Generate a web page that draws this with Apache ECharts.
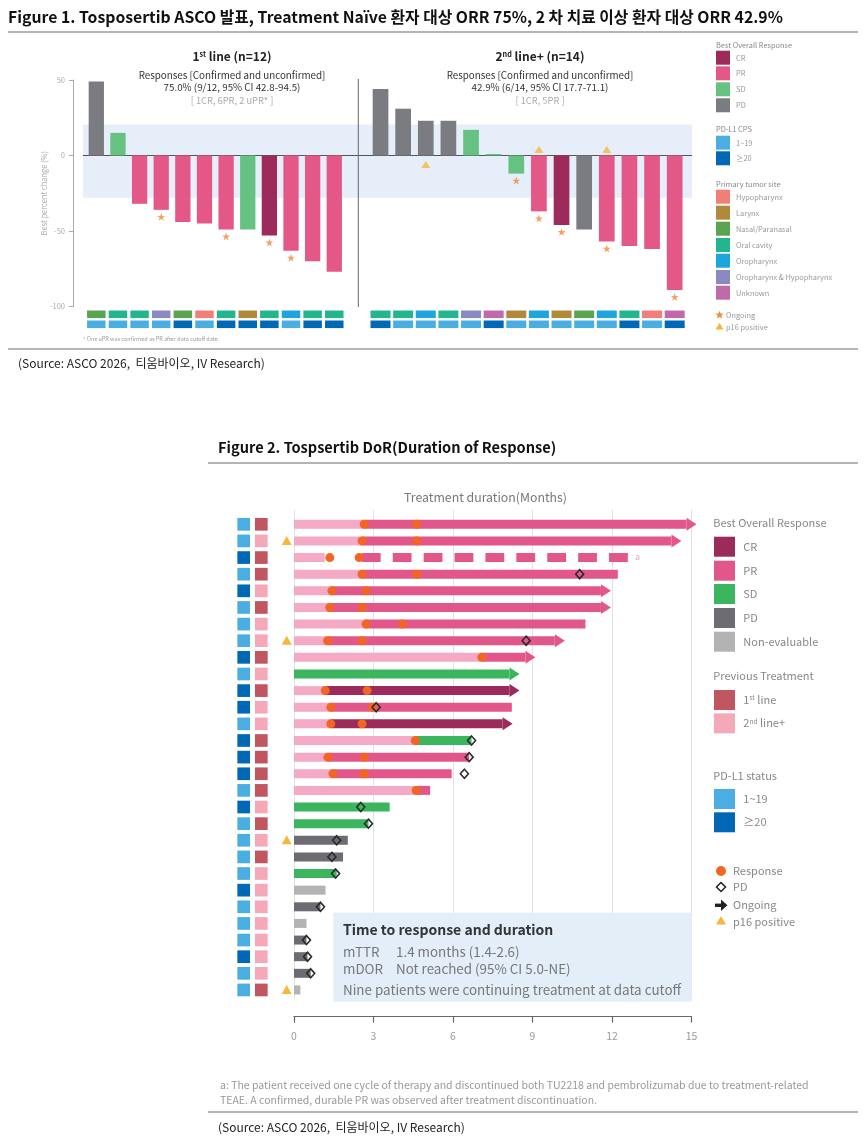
<!DOCTYPE html>
<html>
<head>
<meta charset="utf-8">
<script src="https://cdn.jsdelivr.net/npm/echarts@6.0.0/dist/echarts.min.js"></script>
<style>
html,body{margin:0;padding:0;background:#fff;}
#chart{width:864px;height:1142px;}
</style>
</head>
<body>
<div id="chart"></div>
<script>
// ---------------- Figure 1 data ----------------
const line1Ids = ['1','2','3','4','5','6','7','8','9','10','11','12'];
const line1Change = [49, 15, -32, -36, -44, -45, -49, -49, -53, -63, -70, -77];
const line1BOR = ['PD','SD','PR','PR','PR','PR','PR','SD','CR','PR','PR','PR'];
const line1Ongoing = [0,0,0,1,0,0,1,0,1,1,0,0];
const line1Site = ['Nasal/Paranasal','Oral cavity','Oral cavity','Oropharynx & Hypopharynx','Nasal/Paranasal','Hypopharynx','Oral cavity','Larynx','Oral cavity','Oropharynx','Oral cavity','Oral cavity'];
const line1CPS = ['1~19','1~19','1~19','1~19','≥20','1~19','≥20','≥20','≥20','1~19','≥20','≥20'];

const line2Ids = ['1','2','3','4','5','6','7','8','9','10','11','12','13','14'];
const line2Change = [44, 31, 23, 23, 17, 1, -12, -37, -46, -49, -57, -60, -62, -89];
const line2BOR = ['PD','PD','PD','PD','SD','SD','SD','PR','CR','PD','PR','PR','PR','PR'];
const line2Ongoing = [0,0,0,0,0,0,1,1,1,0,1,0,0,1];
const line2P16 = [0,0,1,0,0,0,0,1,0,0,1,0,0,0];
const line2Site = ['Oral cavity','Oral cavity','Oropharynx','Oral cavity','Oropharynx & Hypopharynx','Unknown','Larynx','Oropharynx','Larynx','Nasal/Paranasal','Oropharynx','Oral cavity','Hypopharynx','Unknown'];
const line2CPS = ['≥20','1~19','1~19','1~19','1~19','≥20','1~19','1~19','1~19','1~19','1~19','≥20','1~19','≥20'];

const changeMin = -100, changeMax = 50, changeStep = 50;
const responseBand = [20.5, -28];

// ---------------- Figure 2 data ----------------
const dorBOR = ['PR','PR','PR','PR','PR','PR','PR','PR','PR','SD','CR','PR','CR','SD','PR','PR','PR','SD','SD','PD','PD','SD','NE','PD','NE','PD','PD','PD','NE'];
const dorPreEnd = [2.65,2.57,1.16,2.57,1.43,1.35,2.72,1.27,7.09,0,1.18,1.39,1.39,4.58,1.28,1.47,4.61,0,0,0,0,0,0,0,0,0,0,0,0];
const dorStart  = [2.65,2.57,2.56,2.57,1.43,1.35,2.72,1.27,7.09,0,1.18,1.39,1.39,4.58,1.28,1.47,4.61,0,0,0,0,0,0,0,0,0,0,0,0];
const dorEnd = [15.19,14.62,12.68,12.22,11.96,11.96,11.0,10.22,9.11,8.51,8.51,8.22,8.25,6.70,6.61,5.95,5.14,3.61,2.81,2.03,1.85,1.61,1.19,1.0,0.47,0.47,0.51,0.63,0.24];
const dorOngoing = [1,1,0,0,1,1,0,1,1,1,1,0,1,0,0,0,0,0,0,0,0,0,0,0,0,0,0,0,0];
const dorDashed = [0,0,1,0,0,0,0,0,0,0,0,0,0,0,0,0,0,0,0,0,0,0,0,0,0,0,0,0,0];
const dorResponse = [[2.65,4.63],[2.57,4.63],[1.35,2.46],[2.57,4.63],[1.43,2.72],[1.35,2.57],[2.72,4.09],[1.27,2.57],[7.09],[],[1.18,2.76],[1.39,2.96],[1.39,2.57],[4.58],[1.28,2.65],[1.47,2.65],[4.61],[],[],[],[],[],[],[],[],[],[],[],[]];
const dorPD = [null,null,null,10.78,null,null,null,8.76,null,null,null,3.10,null,6.70,6.61,6.43,null,2.52,2.81,1.61,1.43,1.57,null,1.0,null,0.47,0.51,0.63,null];
const dorCPS = ['1~19','1~19','≥20','1~19','≥20','1~19','1~19','1~19','≥20','1~19','≥20','≥20','1~19','≥20','≥20','≥20','1~19','≥20','1~19','1~19','1~19','1~19','≥20','1~19','1~19','1~19','≥20','1~19','1~19'];
const dorPrev = ['1st','2nd+','1st','1st','2nd+','1st','2nd+','2nd+','1st','2nd+','1st','2nd+','2nd+','1st','1st','1st','1st','2nd+','1st','2nd+','1st','2nd+','2nd+','2nd+','2nd+','2nd+','2nd+','2nd+','1st'];
const dorP16 = [0,1,0,0,0,0,0,1,0,0,0,0,0,0,0,0,0,0,0,1,0,0,0,0,0,0,0,0,1];
const monthMin = 0, monthMax = 15, monthStep = 3;

// ---------------- styles ----------------
const F = '"Noto Sans CJK KR", "Noto Sans", sans-serif';
const C1 = {CR:'#9c2a5b', PR:'#e45888', SD:'#65c282', PD:'#7b7c82'};
const C2 = {CR:'#9a2b5a', PR:'#e2578a', SD:'#3bb55e', PD:'#6d6c72', NE:'#b3b3b3'};
const PRE = '#f4a9c5';
const siteColor = {'Hypopharynx':'#f07f78','Larynx':'#b08a3a','Nasal/Paranasal':'#5aa450','Oral cavity':'#22b58e','Oropharynx':'#1ea5dc','Oropharynx & Hypopharynx':'#8a89c0','Unknown':'#c06aab'};
const cpsColor = {'1~19':'#4baee3','≥20':'#0068b4'};
const prevColor = {'1st':'#c0565f','2nd+':'#f4a9b9'};
const STAR = 'path://M50,0L61.8,35.1L98.9,35.1L68.9,56.7L80.3,91.9L50,70.2L19.7,91.9L31.1,56.7L1.1,35.1L38.2,35.1Z';
const STARC = '#f08c3a', TRIC = '#f6b73c';

// ---------------- graphic helpers ----------------
const G = [];
function T(x, y, text, o) {
  o = o || {};
  const st = {text: text, fill: o.c || '#888', font: (o.w || 'normal') + ' ' + (o.s || 12) + 'px ' + F,
    textAlign: o.a || 'left', align: o.a || 'left', textVerticalAlign: 'middle', verticalAlign: 'middle'};
  if (o.rich) st.rich = o.rich;
  G.push({type: 'text', x: x, y: y, z: 10, silent: true, style: st});
}
function R(x, y, w, h, fill, z) { G.push({type:'rect', z: z || 10, silent:true, shape:{x:x, y:y, width:w, height:h}, style:{fill:fill}}); }
function L(x1, y1, x2, y2, stroke, lw) { G.push({type:'line', z:10, silent:true, shape:{x1:x1,y1:y1,x2:x2,y2:y2}, style:{stroke:stroke, lineWidth:lw}}); }
function P(points, fill, stroke, lw) { G.push({type:'polygon', z:10, silent:true, shape:{points:points}, style:{fill:fill, stroke:stroke || null, lineWidth: lw || 0}}); }
function starPts(cx, cy, r) { const p=[]; for (let k=0;k<10;k++){ const a=-Math.PI/2 + k*Math.PI/5; const rr = k%2 ? r*0.45 : r; p.push([cx+rr*Math.cos(a), cy+rr*Math.sin(a)]); } return p; }
function sup(size, w, color) {
  return {
    b: {fontSize: size, fontWeight: w, fontFamily: F, fill: color, color: color},
    s: {fontSize: size*0.6, fontWeight: w, fontFamily: F, fill: color, color: color, verticalAlign: 'top', padding:[0,0,size*0.35,0]}
  };
}

// Titles & frame
T(8, 17, 'Figure 1. Tosposertib ASCO 발표, Treatment Naïve 환자 대상 ORR 75%, 2 차 치료 이상 환자 대상 ORR 42.9%', {s:15.8, w:'bold', c:'#111'});
L(8, 32, 858, 32, '#b4b4b4', 2);
L(8, 349, 858, 349, '#b4b4b4', 2);
T(18, 363, '(Source: ASCO 2026,  티움바이오, IV Research)', {s:12, c:'#222'});
L(358.3, 79, 358.3, 307, '#666', 1);

// panel headers
T(232, 56.7, '{b|1}{s|st}{b| line (n=12)}', {a:'center', rich: sup(12, 'bold', '#222')});
T(232, 75.7, 'Responses [Confirmed and unconfirmed]', {a:'center', s:9.8, c:'#333'});
T(232, 87.7, '75.0% (9/12, 95% CI 42.8-94.5)', {a:'center', s:9.8, c:'#333'});
T(232, 100.5, '[ 1CR, 6PR, 2 uPR* ]', {a:'center', s:9.3, c:'#aaa'});
T(540, 56.7, '{b|2}{s|nd}{b| line+ (n=14)}', {a:'center', rich: sup(12, 'bold', '#222')});
T(540, 75.7, 'Responses [Confirmed and unconfirmed]', {a:'center', s:9.8, c:'#333'});
T(540, 87.7, '42.9% (6/14, 95% CI 17.7-71.1)', {a:'center', s:9.8, c:'#333'});
T(540, 100.5, '[ 1CR, 5PR ]', {a:'center', s:9.3, c:'#aaa'});
T(83, 338.5, '* One uPR was confirmed as PR after data cutoff date', {s:5.5, c:'#999'});

// Figure 1 legend
const lg1 = {s:7.4, c:'#999'}, lg1t = {s:7.4, c:'#888'};
T(716, 45, 'Best Overall Response', lg1t);
[['CR',57.7],['PR',73.3],['SD',89.3],['PD',105.3]].forEach(function(d){ R(716, d[1]-7, 14, 14, C1[d[0]]); T(736, d[1], d[0], lg1); });
T(716, 129, 'PD-L1 CPS', lg1t);
[['1~19',142.7],['≥20',158.3]].forEach(function(d){ R(716, d[1]-7, 14, 14, cpsColor[d[0]]); T(736, d[1], d[0], lg1); });
T(716, 184, 'Primary tumor site', lg1t);
[['Hypopharynx',196.7],['Larynx',212.7],['Nasal/Paranasal',228.7],['Oral cavity',245],['Oropharynx',260.7],['Oropharynx & Hypopharynx',277],['Unknown',292.7]].forEach(function(d){ R(716, d[1]-7, 14, 14, siteColor[d[0]]); T(736, d[1], d[0], lg1); });
P(starPts(719.5, 315, 4.2), STARC);
T(726, 315, 'Ongoing', lg1);
P([[719.5,322.7],[723.5,329.5],[715.5,329.5]], TRIC);
T(726, 326.7, 'p16 positive', lg1);

// Figure 2 frame
T(218, 447, 'Figure 2. Tospsertib DoR(Duration of Response)', {s:14.6, w:'bold', c:'#111'});
L(208, 463, 858, 463, '#b4b4b4', 2);
L(208, 1112, 858, 1112, '#b4b4b4', 2);
T(218, 1127, '(Source: ASCO 2026,  티움바이오, IV Research)', {s:12, c:'#222'});
T(220, 1085, 'a: The patient received one cycle of therapy and discontinued both TU2218 and pembrolizumab due to treatment-related', {s:10.5, c:'#999'});
T(220, 1100, 'TEAE. A confirmed, durable PR was observed after treatment discontinuation.', {s:10.5, c:'#999'});
T(485.5, 497, 'Treatment duration(Months)', {a:'center', s:12.3, c:'#777'});

// info box
R(333.3, 912.7, 358.4, 89, '#e4eef8', 1);
T(343, 930, 'Time to response and duration', {s:14, w:'bold', c:'#333'});
T(343, 952.3, 'mTTR', {s:13.4, c:'#777'});
T(396, 952.3, '1.4 months (1.4-2.6)', {s:13.4, c:'#777'});
T(343, 968.7, 'mDOR', {s:13.4, c:'#777'});
T(396, 968.7, 'Not reached (95% CI 5.0-NE)', {s:13.4, c:'#777'});
T(343, 990, 'Nine patients were continuing treatment at data cutoff', {s:13.4, c:'#777'});

// Figure 2 legend
const lg2 = {s:11, c:'#888'};
T(713.3, 523.3, 'Best Overall Response', lg2);
[['CR','CR',546.7],['PR','PR',570.7],['SD','SD',594],['PD','PD',618],['NE','Non-evaluable',641.7]].forEach(function(d){ R(714, d[2]-10, 21, 20, C2[d[0]]); T(743.3, d[2], d[1], lg2); });
T(713.3, 676, 'Previous Treatment', lg2);
R(714, 690, 21, 20, prevColor['1st']); T(743.3, 700, '{b|1}{s|st}{b| line}', {rich: sup(11, 'normal', '#888')});
R(714, 713.3, 21, 20, prevColor['2nd+']); T(743.3, 723.3, '{b|2}{s|nd}{b| line+}', {rich: sup(11, 'normal', '#888')});
T(713.3, 776, 'PD-L1 status', lg2);
R(714, 789, 21, 20, cpsColor['1~19']); T(743.3, 799, '1~19', lg2);
R(714, 812.3, 21, 20, cpsColor['≥20']); T(743.3, 822.3, '≥20', lg2);
G.push({type:'circle', z:10, silent:true, shape:{cx:721, cy:871, r:5}, style:{fill:'#f26522'}});
T(733, 871, 'Response', lg2);
P([[721,882.5],[725.5,887],[721,891.5],[716.5,887]], '#fff', '#222', 1.5);
T(733, 887, 'PD', lg2);
R(715, 903.6, 7, 3.4, '#222');
P([[721,899.5],[727.5,905.3],[721,911]], '#222');
T(733, 905, 'Ongoing', lg2);
P([[721,916],[726,924.5],[716,924.5]], TRIC);
T(733, 921.5, 'p16 positive', lg2);

// ---------------- series ----------------
const series = [];
series.push({
  type:'custom', xAxisIndex:0, yAxisIndex:0, data:[[0]], silent:true, z:1, clip:false,
  renderItem: function(params, api){
    const a = api.coord([0, responseBand[0]]), b = api.coord([1, responseBand[1]]);
    const z0 = api.coord([0, 0]), z1 = api.coord([1, 0]);
    return {type:'group', children:[
      {type:'rect', shape:{x:a[0], y:a[1], width:b[0]-a[0], height:b[1]-a[1]}, style:{fill:'#e5eef9'}},
      {type:'line', shape:{x1:z0[0], y1:z0[1], x2:z1[0], y2:z1[1]}, style:{stroke:'#555', lineWidth:1}}
    ]};
  }
});
function barSeries(idx, vals, bors, w) {
  return {type:'bar', xAxisIndex:idx, yAxisIndex:idx, barWidth:w, z:3, silent:true,
    data: vals.map(function(v,i){ return {value:v, itemStyle:{color:C1[bors[i]]}}; })};
}
series.push(barSeries(1, line1Change, line1BOR, 15.3));
series.push(barSeries(2, line2Change, line2BOR, 15.7));
function starSeries(idx, vals, flags) {
  const d = []; flags.forEach(function(f,i){ if (f) d.push([i, vals[i]]); });
  return {type:'scatter', xAxisIndex:idx, yAxisIndex:idx, symbol:STAR, symbolSize:8, symbolOffset:[0,7], z:4, silent:true, clip:false,
    itemStyle:{color:STARC}, data:d};
}
series.push(starSeries(1, line1Change, line1Ongoing));
series.push(starSeries(2, line2Change, line2Ongoing));
(function(){
  const d = []; line2P16.forEach(function(f,i){ if (f) d.push({value:[i, 0], symbolOffset:[0, line2Change[i] > 0 ? 9 : -6]}); });
  series.push({type:'scatter', xAxisIndex:2, yAxisIndex:2, symbol:'triangle', symbolSize:[9,7], z:4, silent:true, clip:false, itemStyle:{color:TRIC}, data:d});
})();
function stripSeries(idx, sites, cps, w) {
  return {type:'custom', xAxisIndex:idx, yAxisIndex:idx, clip:false, silent:true, z:3,
    data: sites.map(function(s,i){ return [i]; }),
    renderItem: function(params, api){
      const i = params.dataIndex; const p = api.coord([api.value(0), changeMin]);
      return {type:'group', children:[
        {type:'rect', shape:{x:p[0]-w/2, y:p[1]+4, width:w, height:7.6}, style:{fill:siteColor[sites[i]]}},
        {type:'rect', shape:{x:p[0]-w/2, y:p[1]+14, width:w, height:7.6}, style:{fill:cpsColor[cps[i]]}}
      ]};
    }};
}
series.push(stripSeries(1, line1Site, line1CPS, 18.5));
series.push(stripSeries(2, line2Site, line2CPS, 20));

series.push({
  type:'custom', xAxisIndex:3, yAxisIndex:3, clip:false, silent:true, z:3,
  data: dorEnd.map(function(e,i){ return [e, i]; }),
  renderItem: function(params, api){
    const i = params.dataIndex;
    const o = api.coord([0, i]);
    const y = o[1], h = 9, kids = [];
    if (dorPreEnd[i] > 0) {
      const xp = api.coord([dorPreEnd[i], i])[0];
      kids.push({type:'rect', shape:{x:o[0], y:y-h/2, width:xp-o[0], height:h}, style:{fill:PRE}});
    }
    const xs = api.coord([dorStart[i], i])[0], xe = api.coord([api.value(0), i])[0];
    const col = C2[dorBOR[i]];
    if (dorDashed[i]) {
      kids.push({type:'line', shape:{x1:xs, y1:y, x2:xe, y2:y}, style:{stroke:col, lineWidth:h, lineDash:[18.8,12.1], lineCap:'butt'}});
      kids.push({type:'text', x:xe+5, y:y-1, style:{text:'a', fill:'#f2a7bf', font:'9px '+F, verticalAlign:'middle', textVerticalAlign:'middle'}});
    } else if (dorOngoing[i]) {
      const hs = xe - 10;
      kids.push({type:'rect', shape:{x:xs, y:y-h/2, width:hs-xs, height:h}, style:{fill:col}});
      kids.push({type:'polygon', shape:{points:[[hs, y-6.5],[xe, y],[hs, y+6.5]]}, style:{fill:col}});
    } else {
      kids.push({type:'rect', shape:{x:xs, y:y-h/2, width:xe-xs, height:h}, style:{fill:col}});
    }
    return {type:'group', children:kids};
  }
});
(function(){
  const d = []; dorResponse.forEach(function(arr,i){ arr.forEach(function(t){ d.push([t, i]); }); });
  series.push({type:'scatter', xAxisIndex:3, yAxisIndex:3, symbol:'circle', symbolSize:9, z:5, silent:true, itemStyle:{color:'#f26522', opacity:1}, data:d});
  const p = []; dorPD.forEach(function(t,i){ if (t !== null) p.push([t, i]); });
  series.push({type:'scatter', xAxisIndex:3, yAxisIndex:3, symbol:'diamond', symbolSize:[8,9], z:6, silent:true,
    itemStyle:{color:'rgba(255,255,255,0)', borderColor:'#2b2b2b', borderWidth:1.6, opacity:1}, data:p});
})();
series.push({
  type:'custom', xAxisIndex:3, yAxisIndex:3, clip:false, silent:true, z:3,
  data: dorCPS.map(function(c,i){ return [0, i]; }),
  renderItem: function(params, api){
    const i = params.dataIndex; const o = api.coord([0, api.value(1)]); const s = 12.7;
    const kids = [
      {type:'rect', shape:{x:o[0]-50.3-s/2, y:o[1]-s/2, width:s, height:s}, style:{fill:cpsColor[dorCPS[i]]}},
      {type:'rect', shape:{x:o[0]-32.7-s/2, y:o[1]-s/2, width:s, height:s}, style:{fill:prevColor[dorPrev[i]]}}
    ];
    if (dorP16[i]) kids.push({type:'polygon', shape:{points:[[o[0]-7.3, o[1]-5],[o[0]-2.3, o[1]+4],[o[0]-12.3, o[1]+4]]}, style:{fill:TRIC}});
    return {type:'group', children:kids};
  }
});

const hiddenVal = {type:'value', min:changeMin, max:changeMax, show:false};
const option = {
  animation:false,
  backgroundColor:'#fff',
  textStyle:{fontFamily:F},
  grid:[
    {left:83, top:80, width:609, height:226.5},
    {left:85.5, top:80, width:259.6, height:226.5},
    {left:369.2, top:80, width:316.8, height:226.5},
    {left:294, top:510, width:397.5, height:488.6}
  ],
  xAxis:[
    {gridIndex:0, type:'value', min:0, max:1, show:false},
    {gridIndex:1, type:'category', data:line1Ids, show:false},
    {gridIndex:2, type:'category', data:line2Ids, show:false},
    {gridIndex:3, type:'value', min:monthMin, max:monthMax, interval:monthStep, offset:18, position:'bottom',
      axisLine:{show:true, onZero:false, lineStyle:{color:'#666', width:1.2}},
      axisTick:{show:true, length:6, lineStyle:{color:'#666', width:1.2}},
      axisLabel:{color:'#999', fontSize:10.5, margin:14, fontFamily:F},
      splitLine:{show:true, lineStyle:{color:'#e2e2e2', width:1}}}
  ],
  yAxis:[
    {gridIndex:0, type:'value', min:changeMin, max:changeMax, interval:changeStep, offset:10, position:'left',
      axisLine:{show:true, onZero:false, lineStyle:{color:'#aaa', width:1}},
      axisTick:{show:true, length:4, lineStyle:{color:'#aaa'}},
      axisLabel:{color:'#aaa', fontSize:7.5, margin:8, fontFamily:F},
      splitLine:{show:false},
      name:'Best percent change (%)', nameLocation:'middle', nameGap:25, nameRotate:90, nameMoveOverlap:false,
      nameTextStyle:{color:'#aaa', fontSize:7.5, fontFamily:F}},
    Object.assign({gridIndex:1}, hiddenVal),
    Object.assign({gridIndex:2}, hiddenVal),
    {gridIndex:3, type:'value', min:-0.86, max:28.52, inverse:true, show:false}
  ],
  graphic:{elements:G},
  series:series
};
const chart = echarts.init(document.getElementById('chart'), null, {renderer:'canvas', width:864, height:1142});
chart.setOption(option);
</script>
</body>
</html>
